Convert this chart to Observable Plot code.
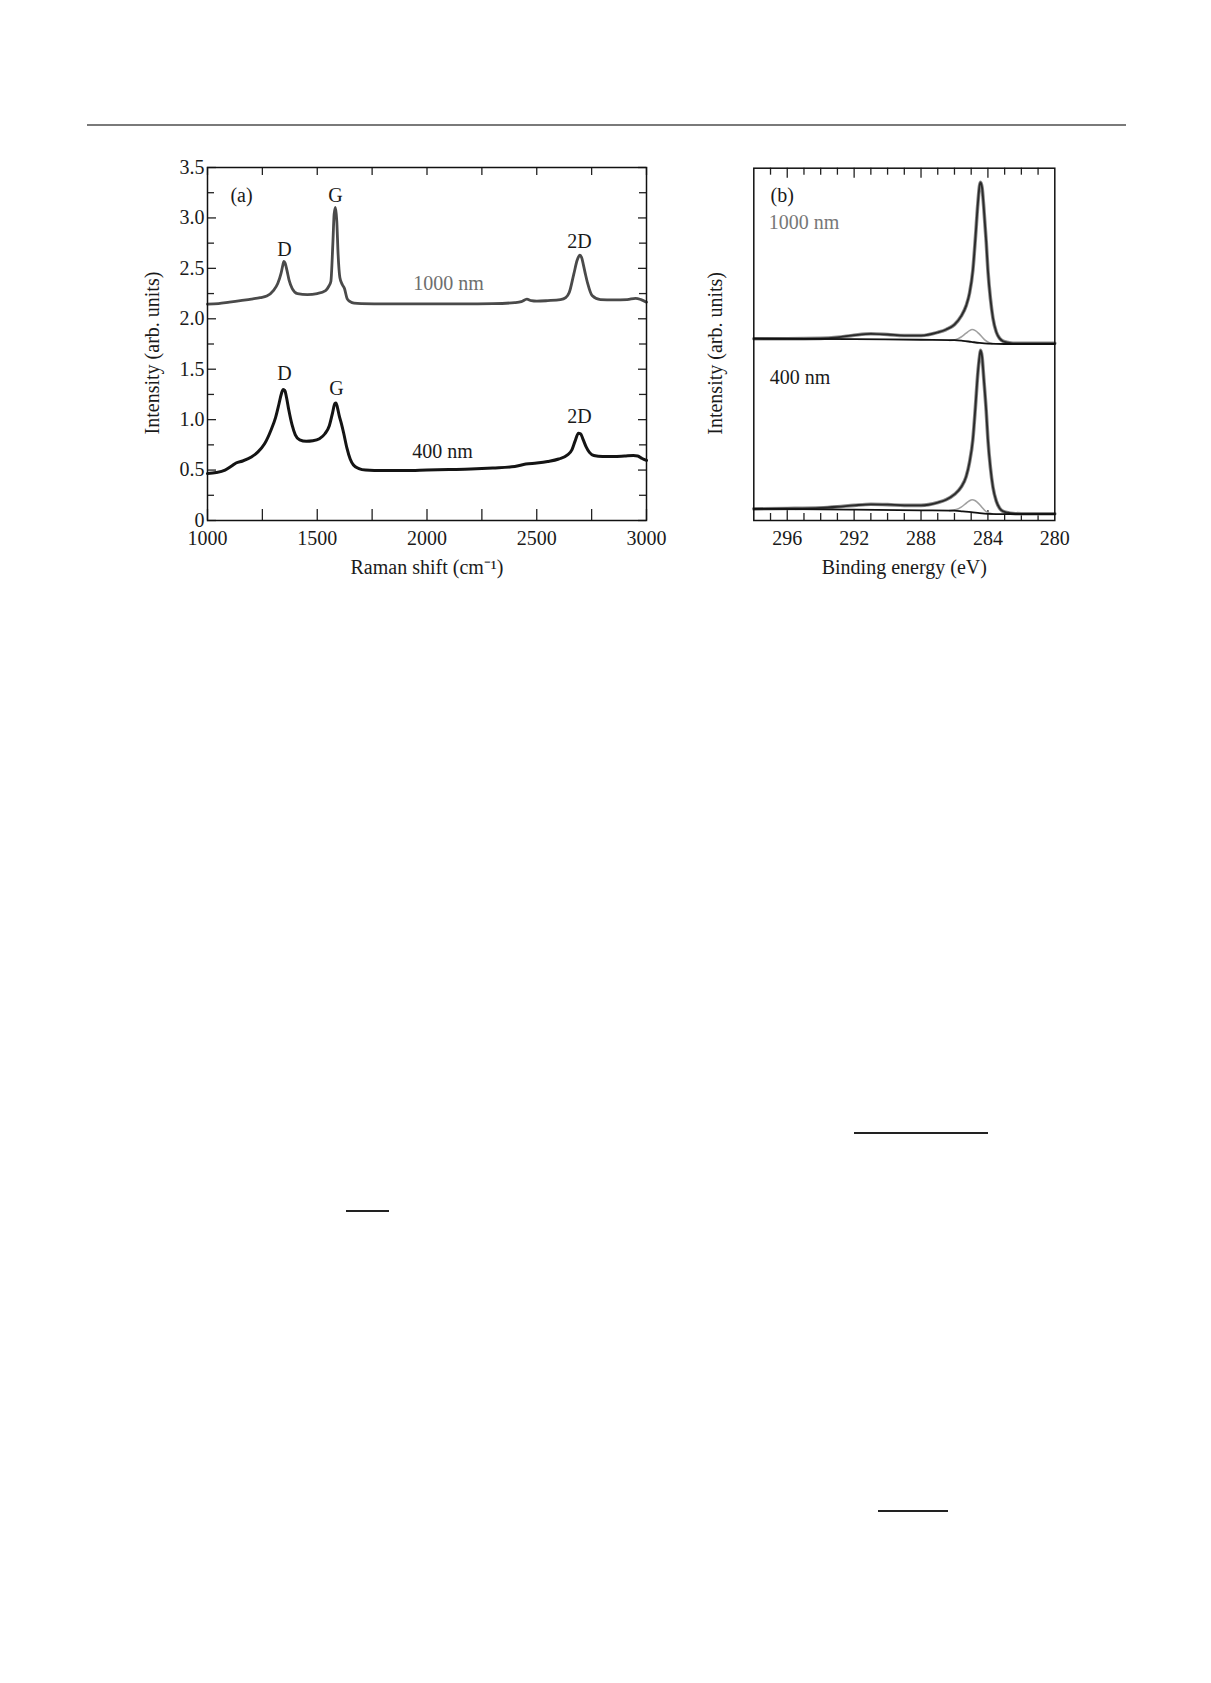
<!DOCTYPE html>
<html><head><meta charset="utf-8">
<script src="https://cdn.jsdelivr.net/npm/d3@7"></script>
<script src="https://cdn.jsdelivr.net/npm/@observablehq/plot@0.6"></script>
<style>
body{margin:0;background:#fff;width:1211px;height:1683px;position:relative;overflow:hidden;font-family:"Liberation Serif",serif;}
#a{position:absolute;left:120px;top:140px;}
#b{position:absolute;left:660px;top:140px;}
.hr{position:absolute;}
</style></head><body>
<div class="hr" style="left:87px;top:124px;width:1039px;height:1.5px;background:#7a7a7a"></div>
<div class="hr" style="left:854px;top:1132px;width:134px;height:1.5px;background:#222"></div>
<div class="hr" style="left:346px;top:1210px;width:43px;height:1.5px;background:#222"></div>
<div class="hr" style="left:878px;top:1510px;width:70px;height:1.5px;background:#222"></div>
<div id="a"></div>
<div id="b"></div>
<script>
// ---------- Panel (a): Raman ----------
const ramanShift1000 = [1000,1050,1100,1150,1200,1240,1270,1300,1320,1335,1343,1348,1354,1362,1372,1386,1410,1455,1500,1538,1552,1562,1571,1577,1583,1589,1595,1603,1614,1624,1636,1650,1668,1700,1800,1900,2000,2100,2200,2300,2400,2430,2455,2475,2500,2550,2608,2632,2648,2669,2684,2696,2704,2712,2722,2732,2752,2790,2850,2912,2950,2975,3000];
const intensity1000 = [2.145,2.15,2.165,2.18,2.195,2.21,2.225,2.28,2.35,2.45,2.53,2.57,2.55,2.48,2.38,2.30,2.25,2.24,2.25,2.28,2.32,2.37,2.74,3.04,3.105,2.97,2.64,2.41,2.34,2.30,2.20,2.17,2.155,2.15,2.148,2.147,2.147,2.148,2.148,2.15,2.16,2.17,2.195,2.18,2.175,2.18,2.19,2.21,2.26,2.445,2.58,2.63,2.61,2.54,2.44,2.35,2.23,2.19,2.188,2.19,2.203,2.19,2.165];
const ramanShift400 = [1000,1040,1080,1110,1130,1160,1200,1230,1260,1290,1310,1325,1337,1345,1352,1360,1370,1385,1400,1420,1450,1480,1510,1535,1555,1570,1580,1585,1592,1600,1610,1620,1635,1650,1665,1690,1720,1800,1900,2000,2100,2200,2300,2400,2450,2500,2550,2600,2640,2660,2675,2690,2700,2710,2725,2740,2760,2800,2850,2900,2940,2960,2980,3000];
const intensity400 = [0.465,0.475,0.50,0.54,0.57,0.59,0.63,0.68,0.76,0.90,1.02,1.15,1.26,1.30,1.29,1.22,1.10,0.95,0.85,0.80,0.785,0.79,0.81,0.86,0.94,1.07,1.16,1.165,1.12,1.04,0.96,0.87,0.72,0.61,0.55,0.515,0.50,0.495,0.495,0.50,0.505,0.51,0.52,0.535,0.56,0.57,0.585,0.61,0.65,0.70,0.79,0.865,0.86,0.81,0.73,0.675,0.645,0.635,0.635,0.64,0.645,0.64,0.615,0.595];

const ramanTicksMajor = [1000,1500,2000,2500,3000];
const ramanTicksMinor = [1250,1750,2250,2750];
const intensityTicksMajor = [0,0.5,1,1.5,2,2.5,3,3.5];
const intensityTicksMinor = [0.25,0.75,1.25,1.75,2.25,2.75,3.25];

const peakLabels = ["D","G","2D","D","G","2D"];
const peakLabelX = [1351,1583,2695,1351,1588,2695];
const peakLabelY = [2.69,3.22,2.77,1.46,1.31,1.03];

const sampleLabels = ["1000 nm","400 nm"];
const sampleLabelX = [2098,2071];
const sampleLabelY = [2.35,0.68];
const sampleColors = ["#6e6e6e","#1a1a1a"];

const font = "Liberation Serif";
{
  const W=560,H=460,mL=87,mR=34,mT=27,mB=80;
  const pw=W-mL-mR, ph=H-mT-mB;
  const chart = Plot.plot({
    width:W,height:H,marginLeft:mL,marginRight:mR,marginTop:mT,marginBottom:mB,
    style:{fontFamily:font,fontSize:"20px",color:"#1a1a1a",background:"transparent"},
    x:{domain:[1000,3000]},
    y:{domain:[0,3.5]},
    marks:[
      Plot.axisX(ramanTicksMajor,{tickSize:0,tickPadding:10,fontSize:20,label:null,tickFormat:d=>String(d)}),
      Plot.axisY(intensityTicksMajor,{tickSize:0,tickPadding:3,fontSize:20,label:null,tickFormat:d=>d===0?"0":d.toFixed(1)}),
      // inward ticks
      Plot.ruleX(ramanTicksMajor,{x:d=>d,insetTop:ph-11,stroke:"#222",strokeWidth:1.3}),
      Plot.ruleX(ramanTicksMinor,{x:d=>d,insetTop:ph-11,stroke:"#222",strokeWidth:1.3}),
      Plot.ruleX(ramanTicksMajor,{x:d=>d,insetBottom:ph-8,stroke:"#222",strokeWidth:1.3}),
      Plot.ruleX(ramanTicksMinor,{x:d=>d,insetBottom:ph-8,stroke:"#222",strokeWidth:1.3}),
      Plot.ruleY(intensityTicksMajor,{y:d=>d,insetRight:pw-9,stroke:"#222",strokeWidth:1.3}),
      Plot.ruleY(intensityTicksMinor,{y:d=>d,insetRight:pw-7,stroke:"#222",strokeWidth:1.3}),
      Plot.ruleY(intensityTicksMajor,{y:d=>d,insetLeft:pw-8,stroke:"#222",strokeWidth:1.3}),
      Plot.ruleY(intensityTicksMinor,{y:d=>d,insetLeft:pw-7,stroke:"#222",strokeWidth:1.3}),
      Plot.line(intensity1000,{x:ramanShift1000,y:intensity1000,stroke:"#4a4a4a",strokeWidth:2.8,curve:"monotone-x"}),
      Plot.line(intensity400,{x:ramanShift400,y:intensity400,stroke:"#141414",strokeWidth:3,curve:"monotone-x"}),
      Plot.text(peakLabels,{x:peakLabelX,y:peakLabelY,text:d=>d,fontSize:20,fill:"#1a1a1a"}),
      Plot.text(sampleLabels,{x:sampleLabelX,y:sampleLabelY,text:d=>d,fontSize:20,fill:sampleColors}),
      Plot.text(["(a)"],{x:[1155],y:[3.22],text:d=>d,fontSize:20,fill:"#1a1a1a"}),
      Plot.text(["Raman shift (cm⁻¹)"],{frameAnchor:"bottom",lineAnchor:"middle",textAnchor:"middle",dy:47,fontSize:20,fill:"#1a1a1a"}),
      Plot.text(["Intensity (arb. units)"],{frameAnchor:"left",textAnchor:"middle",lineAnchor:"middle",rotate:-90,dx:-55,dy:9,fontSize:20,fill:"#1a1a1a"}),
      Plot.frame({stroke:"#111",strokeWidth:1.5})
    ]
  });
  document.getElementById("a").appendChild(chart);
}

// ---------- Panel (b): XPS C1s ----------
const bindingEnergy = [298,296,294,293,292,291,290,289,288,287,286.5,286,285.6,285.3,285.1,284.9,284.75,284.6,284.5,284.44,284.35,284.25,284.1,284.0,283.85,283.7,283.5,283.3,283.1,282.8,282.5,282,281,280];
const envelope1000 = [0.516,0.516,0.517,0.520,0.526,0.530,0.528,0.525,0.525,0.534,0.542,0.556,0.58,0.61,0.645,0.71,0.80,0.90,0.95,0.960,0.945,0.89,0.79,0.71,0.63,0.575,0.535,0.517,0.509,0.505,0.503,0.503,0.503,0.503];
const envelope400 = [0.033,0.034,0.036,0.039,0.043,0.046,0.045,0.043,0.043,0.051,0.059,0.074,0.095,0.125,0.165,0.23,0.32,0.42,0.465,0.483,0.465,0.405,0.31,0.23,0.15,0.095,0.055,0.035,0.026,0.022,0.020,0.019,0.019,0.019];
const backgroundEnergy = [298,292,288,286,285.5,285,284.5,284,283,280];
const background1000 = [0.516,0.515,0.513,0.512,0.510,0.507,0.504,0.502,0.501,0.501];
const background400 = [0.033,0.031,0.029,0.028,0.026,0.024,0.021,0.019,0.018,0.018];
const componentEnergy = [286.3,285.9,285.6,285.3,285.1,284.95,284.75,284.55,284.35,284.15,283.95,283.75];
const component1000 = [0.511,0.514,0.521,0.532,0.539,0.542,0.539,0.531,0.521,0.511,0.505,0.502];
const component400 = [0.028,0.031,0.038,0.049,0.056,0.059,0.056,0.048,0.037,0.027,0.021,0.019];

const energyTicksMajor = [296,292,288,284];
const energyTicksMinor = [297,295,294,293,291,290,289,287,286,285,283,282,281];
const energyTickLabels = [296,292,288,284,280];

const xpsLabels = ["(b)","1000 nm","400 nm"];
const xpsLabelX = [297.0,297.1,297.05];
const xpsLabelY = [0.922,0.847,0.406];
const xpsLabelColors = ["#1a1a1a","#777777","#1a1a1a"];
{
  const W=420,H=460,mL=93.3,mR=25.7,mT=27.7,mB=80;
  const pw=W-mL-mR, ph=H-mT-mB;
  const chart = Plot.plot({
    width:W,height:H,marginLeft:mL,marginRight:mR,marginTop:mT,marginBottom:mB,
    style:{fontFamily:font,fontSize:"20px",color:"#1a1a1a",background:"transparent"},
    x:{domain:[298,280]},
    y:{domain:[0,1],axis:null},
    marks:[
      Plot.axisX(energyTickLabels,{tickSize:0,tickPadding:10,fontSize:20,label:null,tickFormat:d=>String(d)}),
      Plot.ruleX(energyTicksMajor,{x:d=>d,insetTop:ph-10,stroke:"#222",strokeWidth:1.3}),
      Plot.ruleX(energyTicksMinor,{x:d=>d,insetTop:ph-7,stroke:"#222",strokeWidth:1.3}),
      Plot.ruleX(energyTicksMajor,{x:d=>d,insetBottom:ph-10,stroke:"#222",strokeWidth:1.3}),
      Plot.ruleX(energyTicksMinor,{x:d=>d,insetBottom:ph-7,stroke:"#222",strokeWidth:1.3}),
      Plot.line(component1000,{x:componentEnergy,y:component1000,stroke:"#a0a0a0",strokeWidth:1.6,curve:"monotone-x"}),
      Plot.line(component400,{x:componentEnergy,y:component400,stroke:"#a0a0a0",strokeWidth:1.6,curve:"monotone-x"}),
      Plot.line(envelope1000,{x:bindingEnergy,y:envelope1000,stroke:"#8a8a8a",strokeWidth:3.6,curve:"monotone-x"}),
      Plot.line(envelope400,{x:bindingEnergy,y:envelope400,stroke:"#8a8a8a",strokeWidth:3.6,curve:"monotone-x"}),
      Plot.line(envelope1000,{x:bindingEnergy,y:envelope1000,stroke:"#2a2a2a",strokeWidth:1.8,curve:"monotone-x"}),
      Plot.line(envelope400,{x:bindingEnergy,y:envelope400,stroke:"#2a2a2a",strokeWidth:1.8,curve:"monotone-x"}),
      Plot.line(background1000,{x:backgroundEnergy,y:background1000,stroke:"#111",strokeWidth:1.8,curve:"monotone-x"}),
      Plot.line(background400,{x:backgroundEnergy,y:background400,stroke:"#111",strokeWidth:1.8,curve:"monotone-x"}),
      Plot.text(xpsLabels,{x:xpsLabelX,y:xpsLabelY,text:d=>d,textAnchor:"start",fontSize:20,fill:xpsLabelColors}),
      Plot.text(["Binding energy (eV)"],{frameAnchor:"bottom",lineAnchor:"middle",textAnchor:"middle",dy:47,fontSize:20,fill:"#1a1a1a"}),
      Plot.text(["Intensity (arb. units)"],{frameAnchor:"left",textAnchor:"middle",lineAnchor:"middle",rotate:-90,dx:-38,dy:9,fontSize:20,fill:"#1a1a1a"}),
      Plot.frame({stroke:"#111",strokeWidth:1.5})
    ]
  });
  document.getElementById("b").appendChild(chart);
}
</script>
</body></html>
